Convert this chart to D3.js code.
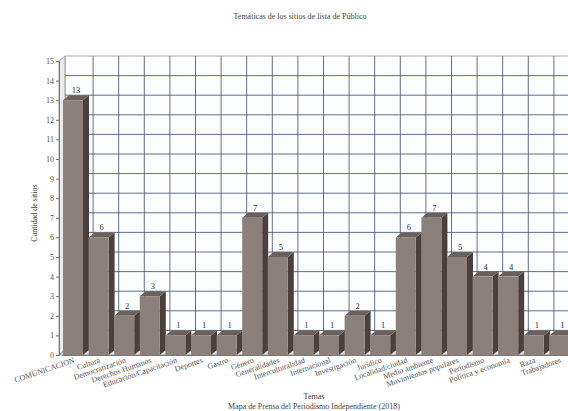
<!DOCTYPE html>
<html><head><meta charset="utf-8">
<script src="https://cdn.jsdelivr.net/npm/d3@7"></script>
<style>
html,body{margin:0;padding:0;background:#fff;overflow:hidden}
svg{display:block}
text{font-family:"Liberation Serif","DejaVu Serif",serif}
</style></head>
<body>
<svg id="chart" width="568" height="411"></svg>
<script>
const categories = ["COMUNICACION","Cultura","Democratización","Derechos Humanos","Educación/Capacitación","Deportes","Gastro","Género","Generalidades","Interculturalidad","Internacional","Investigación","Jurídico","Localidad/ciudad","Medio ambiente","Movimientos populares","Periodismo","Política y economía","Raza","Trabajadores"];
const values = [13,6,2,3,1,1,1,7,5,1,1,2,1,6,7,5,4,4,1,1];
const yTicks = [0,1,2,3,4,5,6,7,8,9,10,11,12,13,14,15];
const titleText = "Temáticas de los sitios de lista de Público";
const xTitle = "Temas";
const yTitle = "Cantidad de sitios";
const subTitle = "Mapa de Prensa del Periodismo Independiente (2018)";

const svg = d3.select("#chart");
const dx = 6, dy = 5;
const axisX = 59;
const x = d3.scaleBand().domain(categories).range([61.5, 61.5 + 20*25.6]).padding(0);
const y = d3.scaleLinear().domain([0, 15]).range([355, 61]);
const right = x.range()[1];

// back wall
svg.append("rect").attr("x", axisX+dx).attr("y", y(15)-dy).attr("width", right+dx-(axisX+dx)).attr("height", y(0)-y(15)).attr("fill", "#fcfdff").attr("stroke", "#999").attr("stroke-width", 0.8);
// left wall
svg.append("path").attr("d", `M${axisX},${y(15)}L${axisX+dx},${y(15)-dy}L${axisX+dx},${y(0)-dy}L${axisX},${y(0)}Z`).attr("fill", "#ececec").attr("stroke", "#888").attr("stroke-width", 0.8);
// floor
svg.append("path").attr("d", `M${axisX},${y(0)}L${axisX+dx},${y(0)-dy}L${right+dx},${y(0)-dy}L${right},${y(0)}Z`).attr("fill", "#e2e2e2").attr("stroke", "#888").attr("stroke-width", 0.8);

// grid horizontal
svg.append("g").selectAll("line").data(yTicks.filter(v => v > 0 && v < 15)).join("line")
  .attr("x1", axisX+dx).attr("x2", right+dx)
  .attr("y1", d => y(d)-dy).attr("y2", d => y(d)-dy)
  .attr("stroke", "#34436f").attr("stroke-width", 0.9).attr("stroke-opacity", 0.85);
// grid vertical at band boundaries
svg.append("g").selectAll("line").data(categories.slice(1)).join("line")
  .attr("x1", d => x(d)+dx).attr("x2", d => x(d)+dx)
  .attr("y1", y(15)-dy).attr("y2", y(0)-dy)
  .attr("stroke", "#34436f").attr("stroke-width", 0.9).attr("stroke-opacity", 0.85);

// bars
const bw = 20, off = 1.5;
const bars = svg.append("g").selectAll("g").data(categories.map((c,i) => ({c, v: values[i]}))).join("g");
bars.append("path").attr("d", d => {
  const x0 = x(d.c)+off+bw, yt = y(d.v), yb = y(0);
  return `M${x0},${yt}L${x0+dx},${yt-dy}L${x0+dx},${yb-dy}L${x0},${yb}Z`;
}).attr("fill", "#4b403c");
bars.append("path").attr("d", d => {
  const x0 = x(d.c)+off, yt = y(d.v);
  return `M${x0},${yt}L${x0+dx},${yt-dy}L${x0+bw+dx},${yt-dy}L${x0+bw},${yt}Z`;
}).attr("fill", "#6b615c");
bars.append("rect").attr("x", d => x(d.c)+off).attr("y", d => y(d.v)).attr("width", bw).attr("height", d => y(0)-y(d.v)).attr("fill", "#8c807a");
bars.append("text").attr("x", d => x(d.c)+off+bw/2+dx/2).attr("y", d => y(d.v)-dy-2)
  .attr("text-anchor", "middle").attr("font-size", 8.5).attr("fill", "#333").text(d => d.v);

// y axis
const ya = svg.append("g").attr("transform", `translate(${axisX},0)`)
  .call(d3.axisLeft(y).tickValues(yTicks).tickSize(3).tickPadding(2));
ya.select(".domain").attr("stroke", "#777");
ya.selectAll(".tick line").attr("stroke", "#777");
ya.selectAll("text").attr("font-size", 8).attr("fill", "#555").attr("font-family", "Liberation Serif");

// x axis
const xa = svg.append("g").attr("transform", `translate(0,${y(0)})`)
  .call(d3.axisBottom(x).tickSize(0).tickPadding(0));
xa.select(".domain").attr("stroke", "#777");
xa.selectAll("text").attr("font-size", 8).attr("fill", "#555").attr("font-family", "Liberation Serif")
  .attr("text-anchor", "end").attr("dy", "0.7em").attr("y", 0)
  .attr("transform", "translate(-1,2) rotate(-19)");

// titles
svg.append("text").attr("x", 300).attr("y", 19).attr("text-anchor", "middle").attr("font-size", 8).attr("fill", "#444").text(titleText);
svg.append("text").attr("x", 314).attr("y", 399).attr("text-anchor", "middle").attr("font-size", 8).attr("fill", "#444").text(xTitle);
svg.append("text").attr("x", 314).attr("y", 409).attr("text-anchor", "middle").attr("font-size", 8).attr("fill", "#444").text(subTitle);
svg.append("text").attr("transform", "translate(37,213) rotate(-90)").attr("text-anchor", "middle").attr("font-size", 8).attr("fill", "#444").text(yTitle);
</script>
</body></html>
